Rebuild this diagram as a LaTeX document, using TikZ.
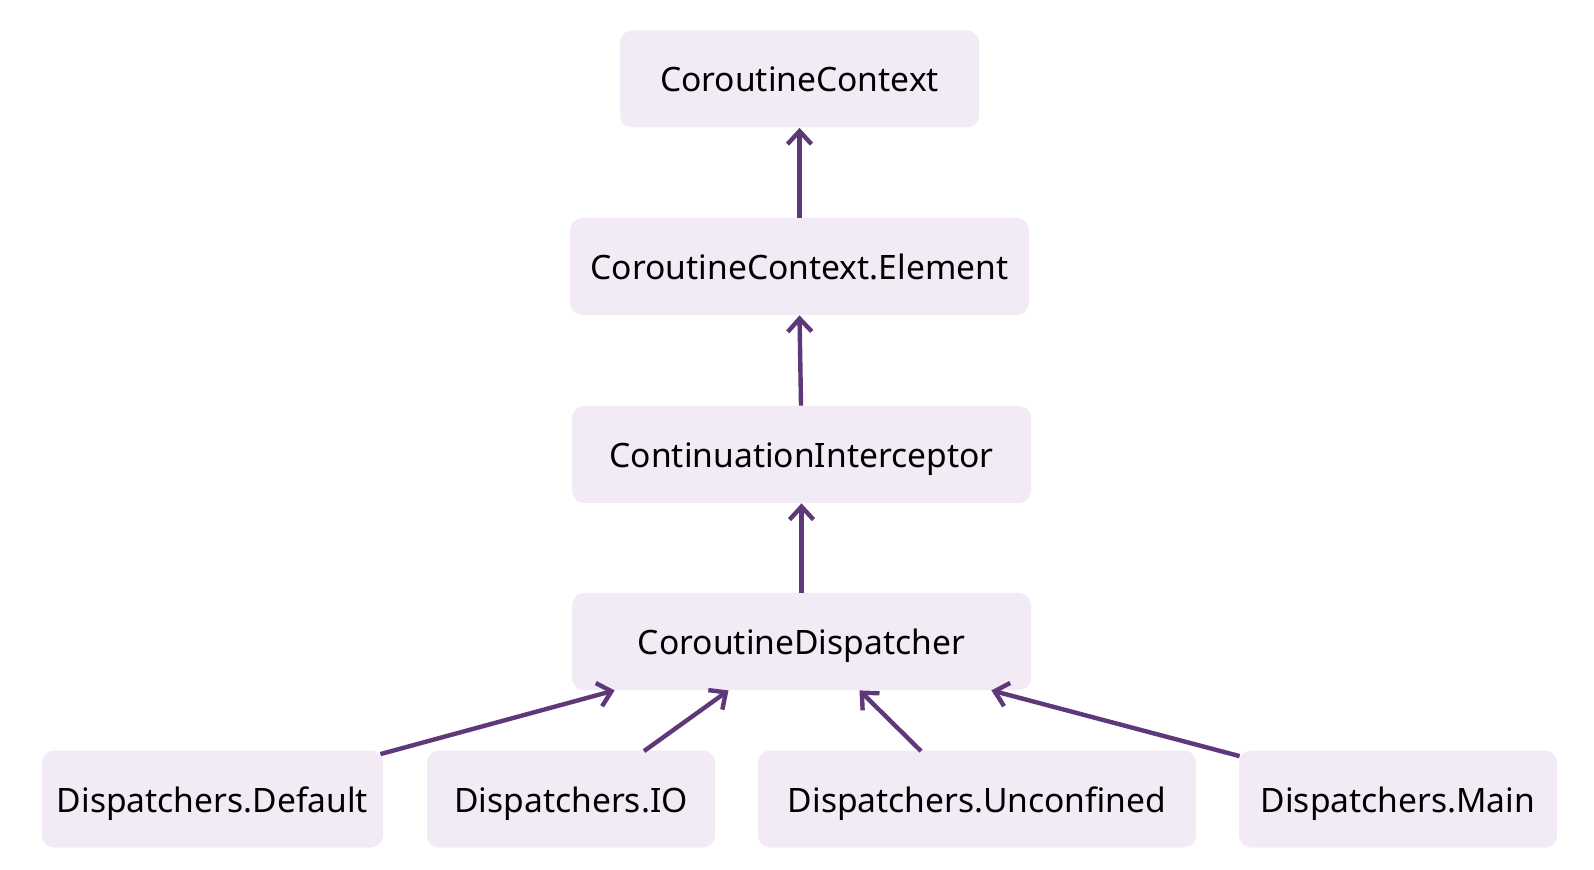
\documentclass[tikz,border=0pt]{standalone}
\usepackage{fontspec}
\setmainfont{Noto Sans}
\usetikzlibrary{arrows.meta}
\definecolor{boxfill}{HTML}{F2EBF6}
\definecolor{arrowcol}{HTML}{5E3878}

\begin{document}
\begin{tikzpicture}[x=0.5pt,y=-0.5pt,
    box/.style={fill=boxfill, rounded corners=6pt, minimum height=48.5pt,
                inner sep=0pt, text height=14pt, text depth=1pt,
                font=\fontsize{16.8}{20}\selectfont},
    inherit/.style={draw=arrowcol, line width=2.2pt,
                    -{Straight Barb[length=6.5pt,width=12pt,line width=2.2pt]}}]
   \useasboundingbox (0,0) rectangle (1594,870);
   \node[box, minimum width=179.5pt] (ctx)  at (799.5,79)  {CoroutineContext};
   \node[box, minimum width=229.5pt] (elem) at (799.5,266.5) {CoroutineContext.Element};
   \node[box, minimum width=229.5pt] (icpt) at (801.5,454.5) {ContinuationInterceptor};
   \node[box, minimum width=229.5pt] (disp) at (801.5,641.5) {CoroutineDispatcher};
   \node[box, minimum width=170.5pt] (dflt) at (212.5,799) {Dispatchers.Default};
   \node[box, minimum width=144pt]   (io)   at (571,799)   {Dispatchers.IO};
   \node[box, minimum width=219pt]   (unc)  at (977,799)   {Dispatchers.Unconfined};
   \node[box, minimum width=159pt]   (main) at (1398,799)  {Dispatchers.Main};

   \draw[inherit] (elem.north) -- (ctx.south);
   \draw[inherit] (icpt.north) ++(-0.5,0) -- (elem.south);
   \draw[inherit] (disp.north) -- (icpt.south);
   \draw[inherit] ([xshift=-1.5pt,yshift=-2pt]dflt.north east) -- ([xshift=21.5pt]disp.south west);
   \draw[inherit] ([xshift=36.5pt,yshift=-0.5pt]io.north) -- ([xshift=-36.5pt]disp.south);
   \draw[inherit] ([xshift=-28pt,yshift=-0.5pt]unc.north) -- ([xshift=29pt]disp.south);
   \draw[inherit] ([xshift=0.5pt,yshift=-3pt]main.north west) -- ([xshift=-20pt]disp.south east);
\end{tikzpicture}
\end{document}
